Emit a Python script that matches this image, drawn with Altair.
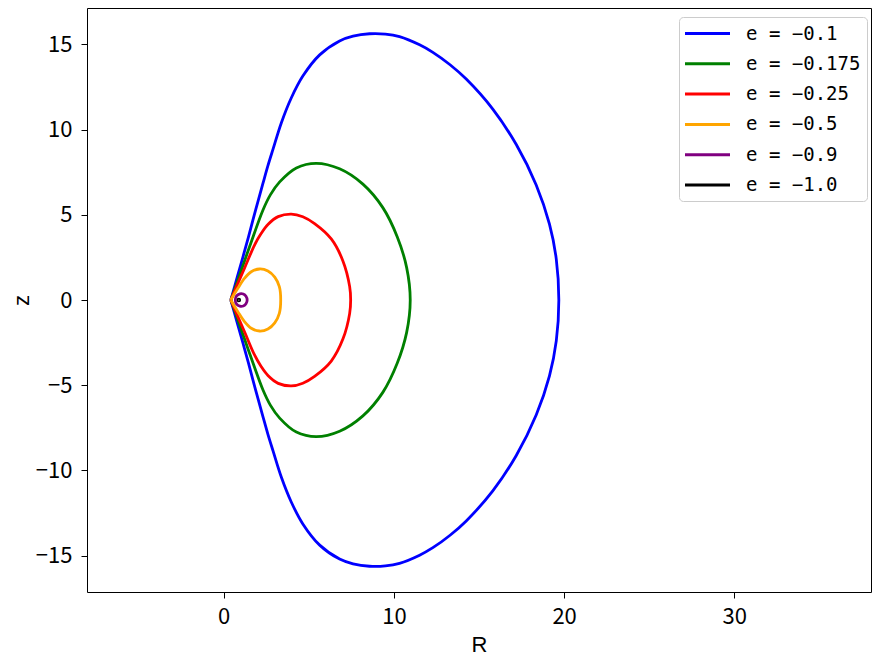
import altair as alt
import pandas as pd

labels = ["e = −0.1", "e = −0.175", "e = −0.25", "e = −0.5", "e = −0.9", "e = −1.0"]
colors = ["blue", "green", "red", "orange", "purple", "black"]

x_ticks = [0, 10, 20, 30]
y_ticks = [-15, -10, -5, 0, 5, 10, 15]

# curves (cusp curves: open paths starting and ending at the cusp)
blue_R = [0.42, 0.80, 1.13, 1.45, 1.72, 2.02, 2.31, 2.60, 2.90, 3.39, 3.97, 4.66, 5.64, 6.81, 7.60,
          8.57, 9.50, 10.33, 11.51, 12.29, 13.30, 14.25, 15.81, 17.19, 18.36, 19.14, 19.54, 19.69,
          19.54, 19.14, 18.36, 17.19, 15.81, 14.25, 13.30, 12.29, 11.51, 10.33, 9.50, 8.57,
          7.60, 6.81, 5.64, 4.66, 3.97, 3.39, 2.90, 2.60, 2.31, 2.02, 1.72, 1.45, 1.13, 0.80, 0.42]
blue_z = [0.0, 1.35, 2.52, 3.68, 4.70, 5.80, 6.85, 7.88, 8.85, 10.40, 11.85, 13.15, 14.38, 15.20, 15.48,
          15.62, 15.60, 15.45, 14.97, 14.53, 13.80, 12.96, 11.20, 9.12, 6.75, 4.45, 2.40, 0.0,
          -2.40, -4.45, -6.75, -9.12, -11.20, -12.96, -13.80, -14.53, -14.97, -15.45, -15.60, -15.62,
          -15.48, -15.20, -14.38, -13.15, -11.85, -10.40, -8.85, -7.88, -6.85, -5.80, -4.70, -3.68, -2.52, -1.35, 0.0]

green_R = [0.42, 0.86, 1.53, 2.31, 2.75, 3.29, 4.27, 5.44, 6.81, 8.18, 9.35, 10.20, 10.75, 10.96,
           10.75, 10.20, 9.35, 8.18, 6.81, 5.44, 4.27, 3.29, 2.75, 2.31, 1.53, 0.86, 0.42]
green_z = [0.0, 1.25, 3.15, 5.28, 6.18, 6.93, 7.75, 8.02, 7.70, 6.80, 5.42, 3.70, 1.90, 0.0,
           -1.90, -3.70, -5.42, -6.80, -7.70, -8.02, -7.75, -6.93, -6.18, -5.28, -3.15, -1.25, 0.0]

red_R = [0.42, 0.80, 1.23, 1.82, 2.20, 2.60, 3.20, 3.97, 4.65, 5.34, 6.32, 7.01, 7.40, 7.46,
         7.40, 7.01, 6.32, 5.34, 4.65, 3.97, 3.20, 2.60, 2.20, 1.82, 1.23, 0.80, 0.42]
red_z = [0.0, 0.90, 1.88, 3.24, 3.90, 4.43, 4.89, 5.04, 4.88, 4.48, 3.58, 2.28, 0.80, 0.0,
         -0.80, -2.28, -3.58, -4.48, -4.88, -5.04, -4.89, -4.43, -3.90, -3.24, -1.88, -0.90, 0.0]

orange_R = [0.42, 0.84, 1.23, 1.62, 2.11, 2.60, 3.00, 3.27, 3.35,
            3.27, 3.00, 2.60, 2.11, 1.62, 1.23, 0.84, 0.42]
orange_z = [0.0, 0.70, 1.28, 1.66, 1.82, 1.70, 1.34, 0.78, 0.0,
            -0.78, -1.34, -1.70, -1.82, -1.66, -1.28, -0.70, 0.0]

# small closed loops
purple_R = [0.68, 0.76, 0.95, 1.15, 1.31, 1.38, 1.31, 1.15, 0.95, 0.76]
purple_z = [0.0, 0.24, 0.36, 0.35, 0.22, 0.0, -0.22, -0.35, -0.36, -0.24]

black_R = [0.84, 0.89, 0.94, 0.89]
black_z = [0.0, 0.05, 0.0, -0.05]

curves = [
    (labels[0], "open", blue_R, blue_z),
    (labels[1], "open", green_R, green_z),
    (labels[2], "open", red_R, red_z),
    (labels[3], "open", orange_R, orange_z),
    (labels[4], "closed", purple_R, purple_z),
    (labels[5], "closed", black_R, black_z),
]
rows = []
for lab, kind, Rs, zs in curves:
    for i, (r, z) in enumerate(zip(Rs, zs)):
        rows.append({"label": lab, "kind": kind, "i": i, "R": r, "z": z})
df = pd.DataFrame(rows)

FONT = "Noto Sans CJK SC"
TFONT = "Liberation Sans"

x_enc = alt.X("R:Q",
              scale=alt.Scale(domain=[-8.03, 38.03], nice=False, zero=False),
              axis=alt.Axis(values=x_ticks, title="R", labelPadding=8,
                            titleY=59, titleBaseline="alphabetic"))
y_enc = alt.Y("z:Q",
              scale=alt.Scale(domain=[-17.13, 17.13], nice=False, zero=False),
              axis=alt.Axis(values=y_ticks, title="z", labelPadding=9,
                            titleX=-66, titleY=292, titleBaseline="middle", titleAngle=-90))
color_enc = alt.Color("label:N",
                      scale=alt.Scale(domain=labels, range=colors),
                      sort=labels,
                      legend=alt.Legend(title=None, orient="none", legendX=592, legendY=9,
                                        symbolType="M-2.5,0H2.5", symbolSize=324,
                                        symbolStrokeWidth=3, symbolOffset=12, labelOffset=28,
                                        labelFont="DejaVu Sans Mono", labelFontSize=19,
                                        labelColor="black", rowPadding=9.3, padding=6,
                                        strokeColor="#cccccc", fillColor="white",
                                        cornerRadius=4, labelLimit=300))

base = alt.Chart(df)
open_layer = base.transform_filter("datum.kind == 'open'").mark_line(
    interpolate="catmull-rom", strokeWidth=2.8).encode(
    x=x_enc, y=y_enc, color=color_enc, order=alt.Order("i:Q"))
closed_layer = base.transform_filter("datum.kind == 'closed'").mark_line(
    interpolate="cardinal-closed", strokeWidth=2.8).encode(
    x=x_enc, y=y_enc, color=color_enc, order=alt.Order("i:Q"))

chart = alt.layer(open_layer, closed_layer).properties(
    width=784, height=584,
    autosize=alt.AutoSizeParams(type="none"),
    padding={"left": 79, "top": 0, "right": 5, "bottom": 70},
).configure_view(stroke="black", strokeWidth=1).configure_axis(
    grid=False, domain=False, tickColor="black", tickSize=6, tickWidth=1,
    labelFont=FONT, labelFontSize=22, labelColor="black",
    titleFont=TFONT, titleFontSize=22, titleFontWeight="normal", titleColor="black",
)

chart.save("out.html", embed_options={"renderer": "svg", "actions": False})
